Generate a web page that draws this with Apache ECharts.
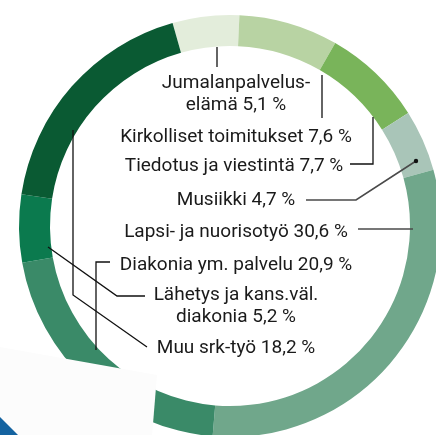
<!DOCTYPE html>
<html>
<head>
<meta charset="utf-8">
<script src="https://cdn.jsdelivr.net/npm/echarts@6/dist/echarts.min.js"></script>
<style>
  html, body { margin: 0; padding: 0; background: #fff; }
  #main { width: 436px; height: 435px; }
</style>
</head>
<body>
<div id="main"></div>
<script>
var categories = ['Jumalanpalvelus-\nelämä', 'Kirkolliset toimitukset', 'Tiedotus ja viestintä', 'Musiikki',
                  'Lapsi- ja nuorisotyö', 'Diakonia ym. palvelu', 'Lähetys ja kans.väl.\ndiakonia', 'Muu srk-työ'];
var values = [5.1, 7.6, 7.7, 4.7, 30.6, 20.9, 5.2, 18.2];
var colors = ['#e3eddb', '#b8d3a3', '#79b45a', '#a9c5b8', '#70a78b', '#3a8a68', '#0b7a4e', '#0a5a33'];

// label positions and leader lines (layout only)
var labelPos = [
    { y: 94, line: [[217, 47], [217, 67]] },
    { y: 137, line: [[322, 75], [322, 118]] },
    { y: 166, x: 234, line: [[350, 164], [373, 164], [373, 117]] },
    { y: 200, line: [[306, 200], [356, 200], [416, 161]], dot: [416, 161], grey: true },
    { y: 232, line: [[358, 229], [413, 229]], grey: true },
    { y: 265, line: [[110, 262], [96, 262], [96, 350]] },
    { y: 306, line: [[145, 296], [117, 296], [48, 247]] },
    { y: 348, line: [[147, 347], [73, 295], [73, 130]] }
];

var myChart = echarts.init(document.getElementById('main'));

var pieData = values.map(function (v, i) {
    return { value: v, name: categories[i], itemStyle: { color: colors[i] } };
});

var graphics = [];
// white panel and blue corner at the bottom left
graphics.push({
    type: 'polygon', z: 100,
    shape: { points: [[0, 347], [157, 375], [152, 436], [0, 436]] },
    style: { fill: '#fcfcfc' }
});
graphics.push({
    type: 'polygon', z: 101,
    shape: { points: [[0, 417], [19, 436], [0, 436]] },
    style: { fill: '#1463a0' }
});

labelPos.forEach(function (p, i) {
    var txt = categories[i] + ' ' + values[i].toFixed(1).replace('.', ',') + ' %';
    graphics.push({
        type: 'text', z: 110,
        style: {
            text: txt, x: p.x || 236, y: p.y,
            align: 'center', verticalAlign: 'middle',
            font: '19px Roboto', fill: '#1a1a1a', lineHeight: 22
        }
    });
    graphics.push({
        type: 'polyline', z: 110,
        shape: { points: p.line },
        style: { stroke: p.grey ? '#4a4a4a' : '#111', lineWidth: p.grey ? 1.6 : 1.3, fill: null }
    });
    if (p.dot) {
        graphics.push({
            type: 'circle', z: 111,
            shape: { cx: p.dot[0], cy: p.dot[1], r: 2.2 },
            style: { fill: '#111' }
        });
    }
});

var option = {
    backgroundColor: '#fff',
    animation: false,
    series: [
        {
            type: 'pie',
            center: [230, 226],
            radius: [180, 211],
            startAngle: 105.8,
            clockwise: true,
            silent: true,
            label: { show: false },
            labelLine: { show: false },
            itemStyle: { borderWidth: 0 },
            data: pieData
        }
    ],
    graphic: graphics
};
myChart.setOption(option);
</script>
</body>
</html>
